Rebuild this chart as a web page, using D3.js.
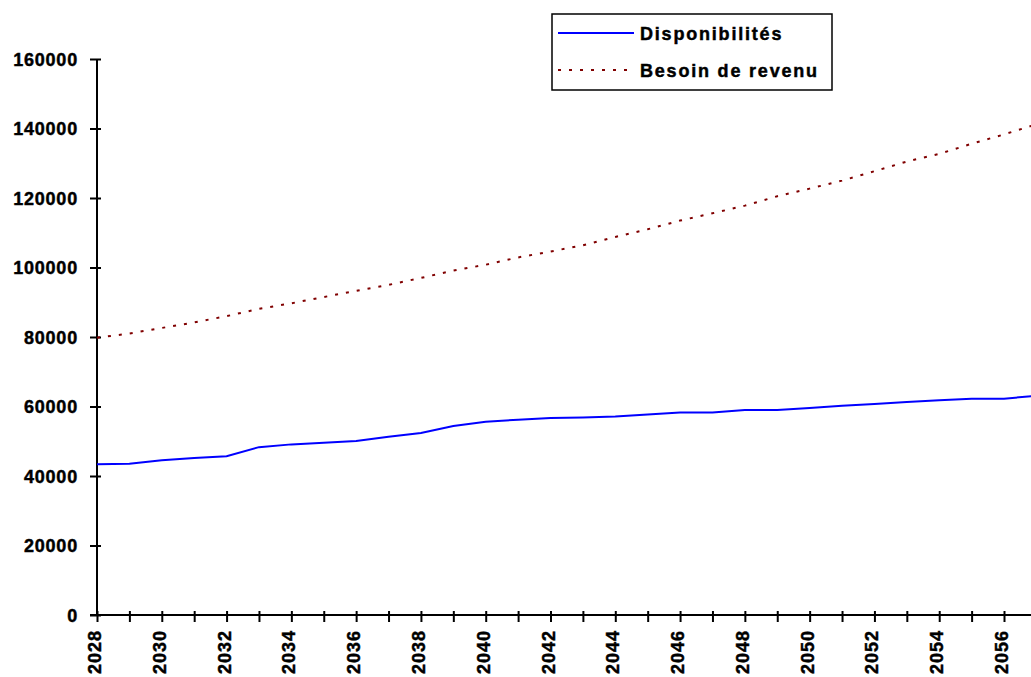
<!DOCTYPE html>
<html>
<head>
<meta charset="utf-8">
<script src="https://cdn.jsdelivr.net/npm/d3@7"></script>
<style>
  body { margin: 0; background: #fff; }
  svg { display: block; }
  text { font-family: "Liberation Sans", Arial, sans-serif; font-weight: bold; fill: #000; stroke: #000; stroke-width: 0.45px; }
</style>
</head>
<body>
<svg id="chart"></svg>
<script>
const years = d3.range(2028, 2058);
const disponibilites = [
    43400, 43500, 44500, 45200, 45700, 48300, 49100, 49600, 50100, 51300,
    52400, 54400, 55600, 56200, 56700, 56850, 57150, 57700, 58300, 58300,
    59000, 59000, 59600, 60200, 60700, 61300, 61800, 62250, 62250, 63100
];
const besoinRevenu = [
    79800, 81000, 82600, 84200, 86000, 88100, 89700, 91500, 93300, 95000,
    97000, 99100, 100800, 102900, 104600, 106400, 108800, 111000, 113500, 115600,
    117800, 120500, 122700, 125000, 127700, 130500, 132700, 135600, 138300, 141200
];
const yTicks = [0, 20000, 40000, 60000, 80000, 100000, 120000, 140000, 160000];
const seriesNames = ['Disponibilités', 'Besoin de revenu'];

const width = 1031, height = 677;
const svg = d3.select('#chart').attr('width', width).attr('height', height);

const x = d3.scaleLinear().domain([2028, 2056]).range([97, 1004]);
const y = d3.scaleLinear().domain([0, 160000]).range([615, 59]);

// y axis
const gy = svg.append('g')
    .attr('transform', `translate(${x(2028)},0)`)
    .call(d3.axisLeft(y).tickValues(yTicks).tickSize(7).tickPadding(12).tickFormat(d3.format('d')));
gy.select('.domain').attr('stroke', '#000').attr('stroke-width', 2).attr('d', `M0,${y(160000)}V${y(0)}`);
gy.selectAll('.tick line').attr('x1', 4).attr('stroke', '#000').attr('stroke-width', 2);
gy.selectAll('.tick text')
    .attr('font-size', 18).attr('font-family', null)
    .attr('letter-spacing', 0.8)
    .attr('dy', '0.36em');

// x axis
const gx = svg.append('g')
    .attr('transform', `translate(0,${y(0)})`)
    .call(d3.axisBottom(x).tickValues(years).tickSize(7)
        .tickFormat(d => d % 2 === 0 ? d : ''));
gx.select('.domain').attr('stroke', '#000').attr('stroke-width', 2).attr('d', `M${x(2028) - 7},0H${width}`);
gx.selectAll('.tick line').attr('y1', -4).attr('stroke', '#000').attr('stroke-width', 2);
gx.selectAll('.tick text')
    .attr('font-size', 18).attr('font-family', null)
    .attr('letter-spacing', 1)
    .attr('text-anchor', 'end')
    .attr('y', 0).attr('dy', 0)
    .attr('transform', 'translate(3.5,15) rotate(-90)');

// lines
const line = d3.line().x((d, i) => x(years[i])).y(d => y(d));

svg.append('path')
    .datum(disponibilites)
    .attr('d', line)
    .attr('fill', 'none')
    .attr('stroke', '#0000ff')
    .attr('stroke-width', 2);

svg.append('path')
    .datum(besoinRevenu)
    .attr('d', line)
    .attr('fill', 'none')
    .attr('stroke', '#800000')
    .attr('stroke-width', 2)
    .attr('stroke-dasharray', '3,8');

// legend
const legend = svg.append('g').attr('transform', 'translate(552,14)');
legend.append('rect')
    .attr('width', 280).attr('height', 76)
    .attr('fill', '#fff').attr('stroke', '#000').attr('stroke-width', 1.5);

const items = legend.selectAll('.legend')
    .data(seriesNames)
    .enter().append('g')
    .attr('class', 'legend')
    .attr('transform', (_, i) => `translate(0, ${19 + i * 37})`);

items.append('line')
    .attr('x1', 6).attr('x2', 82)
    .attr('stroke', (d, i) => i === 0 ? '#0000ff' : '#800000')
    .attr('stroke-width', 2)
    .attr('stroke-dasharray', (d, i) => i === 0 ? null : '3,8');

items.append('text')
    .attr('x', 88).attr('y', 7)
    .attr('font-size', 18)
    .attr('letter-spacing', 1.8)
    .text(d => d);
</script>
</body>
</html>
